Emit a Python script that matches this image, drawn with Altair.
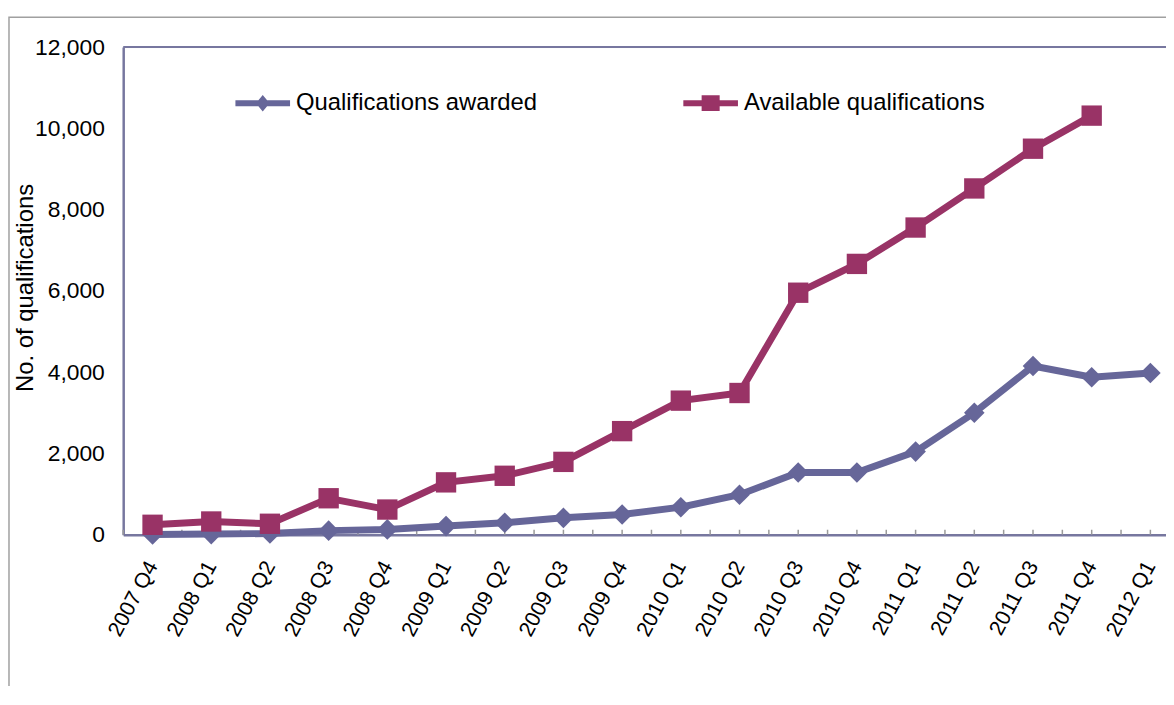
import json
import altair as alt
import pandas as pd
import numpy as np

# ---------------- data ----------------
quarters = ["2007 Q4", "2008 Q1", "2008 Q2", "2008 Q3", "2008 Q4",
            "2009 Q1", "2009 Q2", "2009 Q3", "2009 Q4",
            "2010 Q1", "2010 Q2", "2010 Q3", "2010 Q4",
            "2011 Q1", "2011 Q2", "2011 Q3", "2011 Q4", "2012 Q1"]
awarded = [5, 15, 30, 100, 130, 212, 293, 415, 497, 677, 985,
           1532, 1532, 2045, 3000, 4150, 3875, 3980]
available = [244, 325, 269, 897, 619, 1288, 1450, 1792, 2549, 3299, 3487,
             5955, 6664, 7559, 8521, 9499, 10313, None]
series_names = ["Qualifications awarded", "Available qualifications"]
y_ticks = [0, 2000, 4000, 6000, 8000, 10000, 12000]

# ---------------- styling ----------------
FONT = "Liberation Sans"
FS_X = 21.5
FS_Y = 23
FS_T = 24
FS_L = 24
C_AW = "#666699"
C_AV = "#993366"
AXIS_C = "#77779f"
W, H = 1050, 491

df_aw = pd.DataFrame({"idx": range(len(quarters)), "value": awarded,
                      "series": series_names[0]})
df_av = pd.DataFrame({"idx": range(len(quarters)), "value": available,
                      "series": series_names[1]}).dropna()
df_ticks = pd.DataFrame({"idx": np.arange(-0.5, len(quarters) - 0.5, 0.5)})
df_one = pd.DataFrame({"a": [0]})

xscale = alt.Scale(domain=[-0.5, 17.266], nice=False, zero=False)
yscale = alt.Scale(domain=[0, 12000], nice=False)

label_expr = json.dumps(quarters) + "[datum.value]"
xaxis = alt.Axis(values=list(range(len(quarters))), labelExpr=label_expr,
                 labelAngle=298, labelAlign="right", labelBaseline="middle",
                 labelPadding=28, labelFontSize=FS_X, labelFont=FONT,
                 labelColor="black", labelFlush=False, labelOverlap=False,
                 labelLimit=0,
                 ticks=False, grid=False, domainColor=AXIS_C, domainWidth=2.5,
                 title=None)
yaxis = alt.Axis(values=y_ticks, format=",d", labelFontSize=FS_Y, labelFont=FONT,
                 labelColor="black", labelPadding=19, ticks=False, grid=False,
                 domainColor=AXIS_C, domainWidth=2.5, labelOverlap=False,
                 labelFlush=False,
                 title="No. of qualifications", titleFont=FONT, titleFontSize=FS_T,
                 titleFontWeight="normal", titleColor="black", titleAngle=270,
                 titleX=-91, titleY=242, titleAlign="center",
                 titleBaseline="alphabetic", titleLimit=0)

X = alt.X("idx:Q", scale=xscale, axis=xaxis, title=None)
Y = alt.Y("value:Q", scale=yscale, axis=yaxis)

PATH_DIAMOND = "M-1,-0.11L1,-0.11L1,0.11L-1,0.11Z M0,-0.30L0.25,0L0,0.30L-0.25,0Z"
PATH_SQUARE = "M-1,-0.11L1,-0.11L1,0.11L-1,0.11Z M-0.33,-0.29L0.33,-0.29L0.33,0.29L-0.33,0.29Z"


def legend(x, path):
    return alt.Legend(orient="none", legendX=x, legendY=29, title=None,
                      symbolType=path, symbolSize=3025, symbolStrokeWidth=0,
                      labelFontSize=FS_L, labelFont=FONT, labelColor="black",
                      labelOffset=6, padding=0, labelLimit=0)


border = alt.Chart(df_one).mark_rect(
    fillOpacity=0, stroke="#a0a0a0", strokeWidth=1.5
).encode(x=alt.value(-115), x2=alt.value(W + 60),
         y=alt.value(-30), y2=alt.value(H + 300))

topline = alt.Chart(df_one).mark_rule(color=AXIS_C, strokeWidth=2).encode(
    x=alt.value(0), x2=alt.value(W), y=alt.value(0))

ticks = alt.Chart(df_ticks).mark_rule(color="#9a9a9a", strokeWidth=1.5).encode(
    x=X, y=alt.value(H - 5), y2=alt.value(H))

aw_line = alt.Chart(df_aw).mark_line(color=C_AW, strokeWidth=7).encode(x=X, y=Y)
aw_pts = alt.Chart(df_aw).mark_point(filled=True, shape="diamond", size=430,
                                      opacity=1).encode(
    x=X, y=Y,
    color=alt.Color("series:N",
                    scale=alt.Scale(domain=[series_names[0]], range=[C_AW]),
                    legend=legend(113, PATH_DIAMOND)))
av_line = alt.Chart(df_av).mark_line(color=C_AV, strokeWidth=7).encode(x=X, y=Y)
av_pts = alt.Chart(df_av).mark_point(filled=True, shape="square", size=420,
                                      opacity=1).encode(
    x=X, y=Y,
    color=alt.Color("series:N",
                    scale=alt.Scale(domain=[series_names[1]], range=[C_AV]),
                    legend=legend(564, PATH_SQUARE)))

chart = alt.layer(border, topline, ticks, aw_line, aw_pts, av_line, av_pts).resolve_scale(
    color="independent"
).properties(
    width=W, height=H,
    autosize=alt.AutoSizeParams(type="none"),
    padding={"left": 116, "top": 37, "right": 0, "bottom": 150},
).configure_view(stroke=None).configure(background="white")

chart.save("out.html", embed_options={"renderer": "svg", "actions": False})
